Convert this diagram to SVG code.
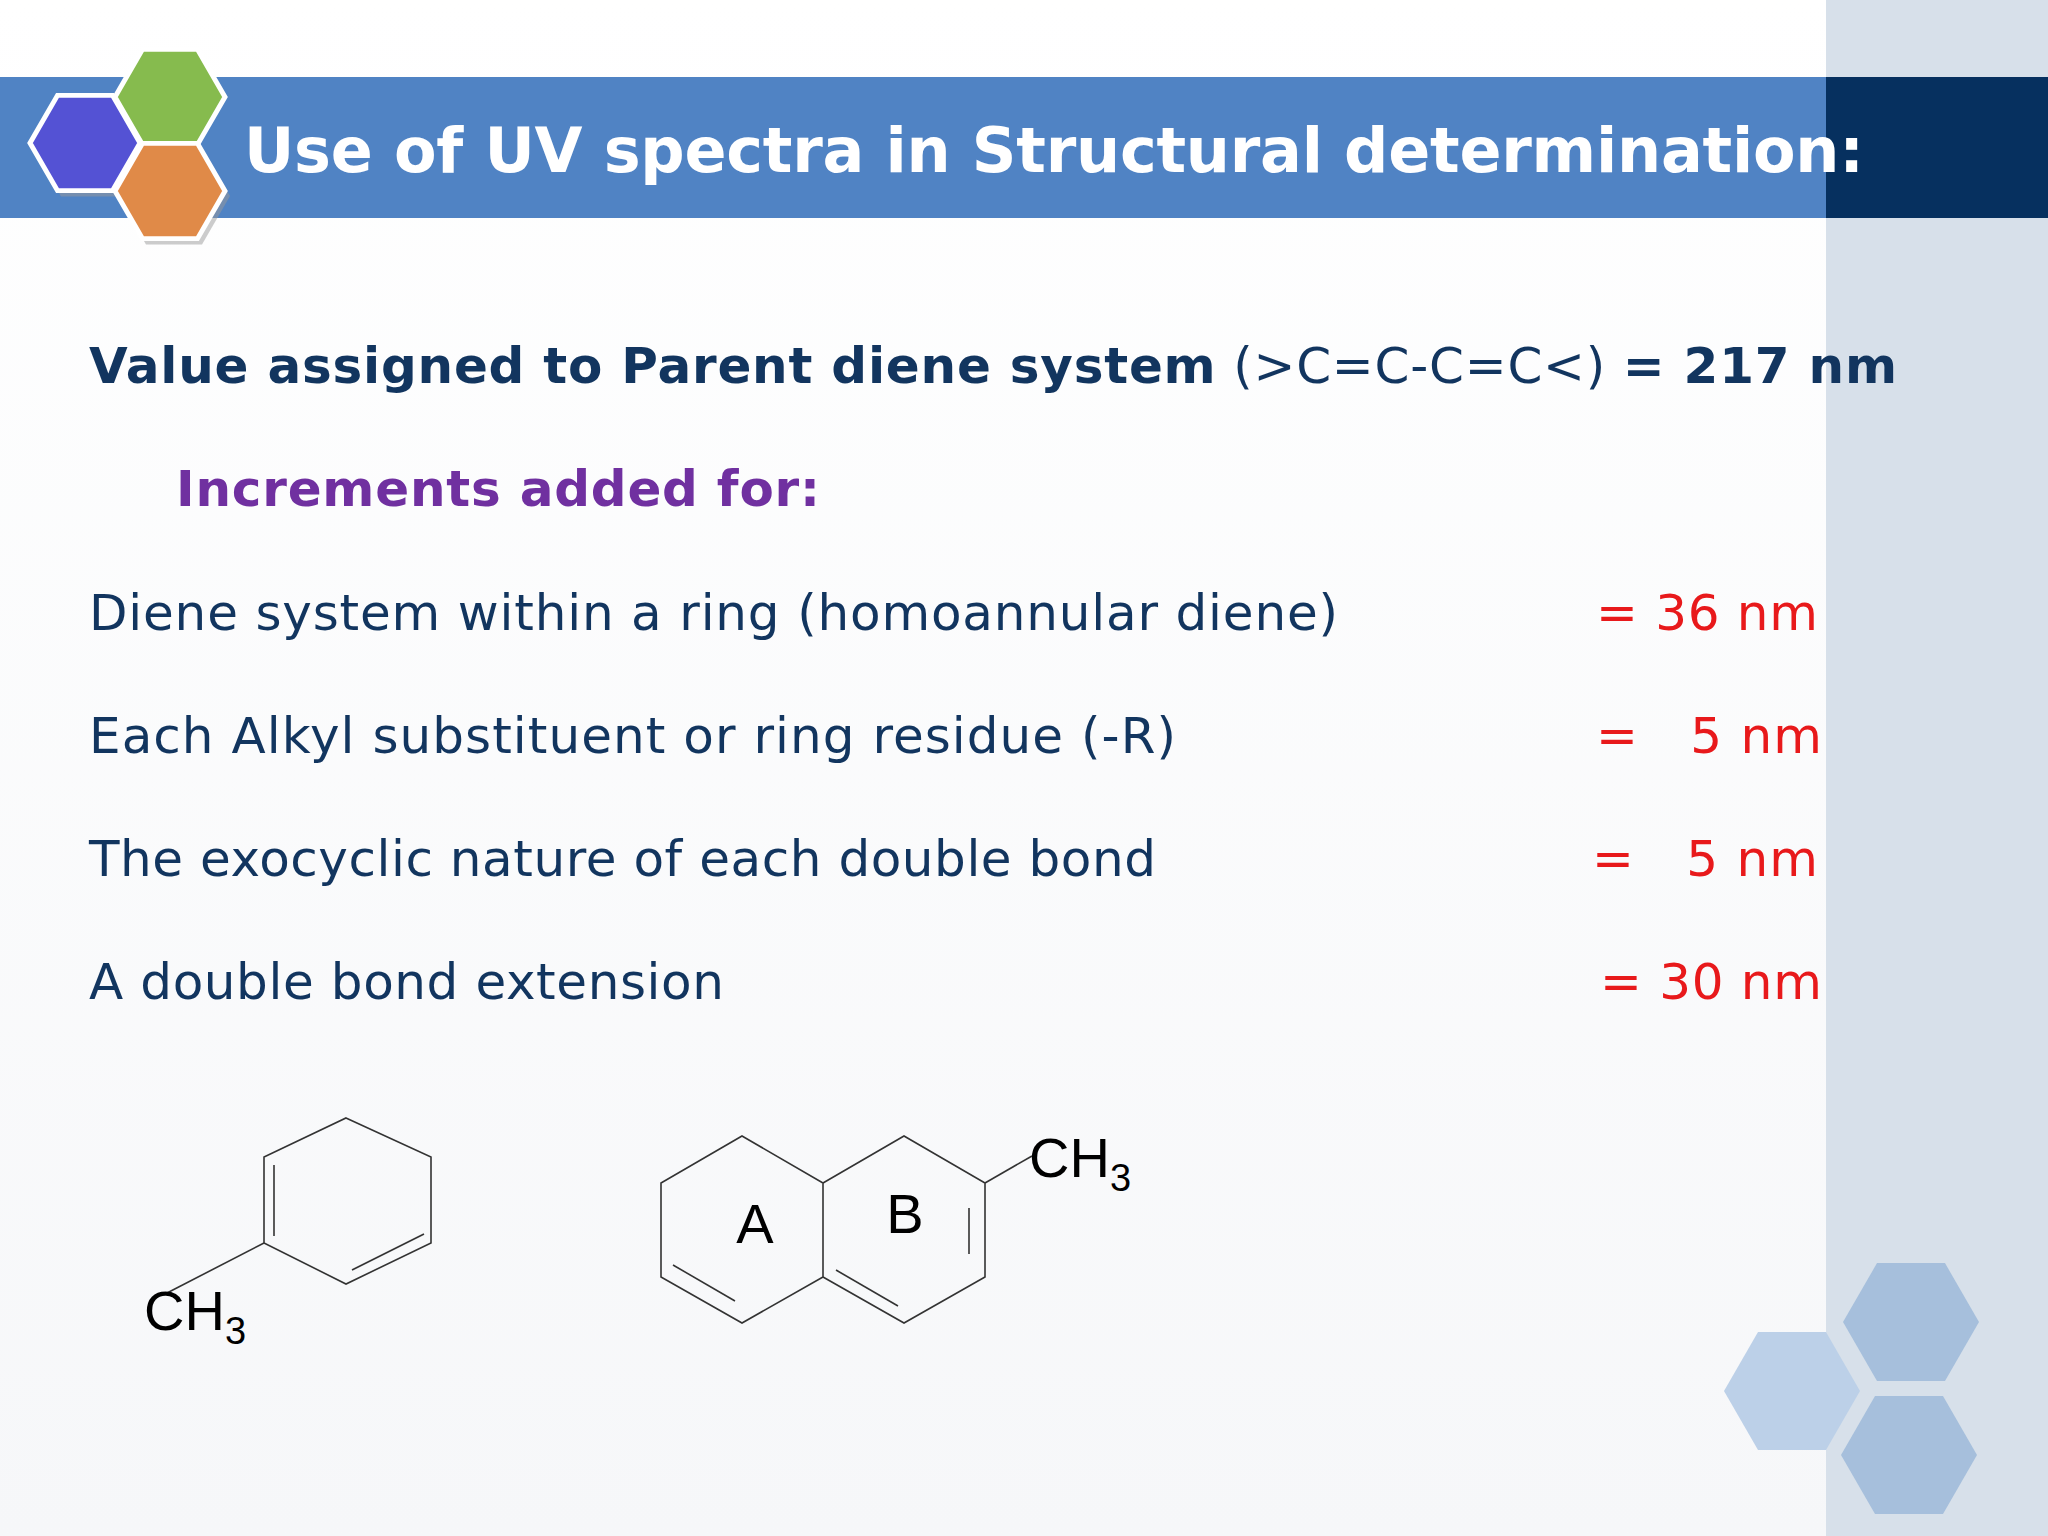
<svg xmlns="http://www.w3.org/2000/svg" width="2048" height="1536" viewBox="0 0 2048 1536">
<defs>
<linearGradient id="bg" x1="0" y1="0" x2="0" y2="1"><stop offset="0" stop-color="#ffffff"/><stop offset="1" stop-color="#f6f7f9"/></linearGradient>
<polygon id="hex" points="-1,0 -0.5,-0.866 0.5,-0.866 1,0 0.5,0.866 -0.5,0.866"/>
</defs>
<style>
.t{font-family:"DejaVu Sans",Verdana,sans-serif;fill:#12355f;font-size:50px}
.b{font-weight:bold}
.r{fill:#e8191b}
.bond{stroke:#333;stroke-width:1.6;fill:none}
.lab{font-family:"Liberation Sans",Arial,sans-serif;font-size:56px;fill:#000}
</style>
<rect width="2048" height="1536" fill="url(#bg)"/>
<rect x="1826" y="0" width="222" height="1536" fill="#d7e0ea"/>
<rect x="0" y="77" width="1826" height="141" fill="#5083c4"/>
<rect x="1826" y="77" width="222" height="141" fill="#06305f"/>
<g id="logo" stroke="#fff" stroke-width="0.09">
<use href="#hex" transform="translate(89,148) scale(56)" fill="#999" stroke="none" opacity="0.5"/>
<use href="#hex" transform="translate(174,196) scale(56)" fill="#999" stroke="none" opacity="0.5"/>
<use href="#hex" transform="translate(85,143) scale(55)" fill="#5452d4"/>
<use href="#hex" transform="translate(170,97) scale(55)" fill="#86bb4e"/>
<use href="#hex" transform="translate(170,191) scale(55)" fill="#e08a48"/>
</g>
<text x="244" y="172" class="t b" style="fill:#fff;font-size:62px" textLength="1620">Use of UV spectra in Structural determination:</text>
<g id="text">
<text x="89" y="383" class="t" textLength="1808"><tspan class="b">Value assigned to Parent diene system</tspan> (&gt;C=C-C=C&lt;) <tspan class="b">= 217 nm</tspan></text>
<text x="176" y="506" class="t b" style="fill:#7030a0" textLength="644">Increments added for:</text>
<text x="89" y="630" class="t" textLength="1249">Diene system within a ring (homoannular diene)</text>
<text x="89" y="753" class="t" textLength="1087">Each Alkyl substituent or ring residue (-R)</text>
<text x="89" y="876" class="t" textLength="1067">The exocyclic nature of each double bond</text>
<text x="89" y="999" class="t" textLength="635">A double bond extension</text>
<text x="1596" y="630" class="t r" xml:space="preserve" textLength="222">= 36 nm</text>
<text x="1596" y="753" class="t r" xml:space="preserve" textLength="226">=   5 nm</text>
<text x="1592" y="876" class="t r" xml:space="preserve" textLength="226">=   5 nm</text>
<text x="1600" y="999" class="t r" xml:space="preserve" textLength="222">= 30 nm</text>
</g>
<g id="mol1">
<polygon class="bond" points="346,1118 431,1157 431,1243 346,1284 264,1243 264,1157"/>
<line class="bond" x1="274" y1="1165" x2="274" y2="1236"/>
<line class="bond" x1="352" y1="1270" x2="424" y2="1234"/>
<line class="bond" x1="264" y1="1243" x2="167" y2="1293"/>
<text x="144" y="1330" class="lab">CH<tspan dy="14" font-size="38">3</tspan></text>
</g>
<g id="mol2">
<polygon class="bond" points="742,1136 823,1183 823,1277 742,1323 661,1277 661,1183"/>
<polyline class="bond" points="823,1183 904,1136 985,1183 985,1277 904,1323 823,1277"/>
<line class="bond" x1="673" y1="1265" x2="735" y2="1301"/>
<line class="bond" x1="836" y1="1270" x2="898" y2="1306"/>
<line class="bond" x1="969" y1="1208" x2="969" y2="1254"/>
<line class="bond" x1="985" y1="1183" x2="1032" y2="1156"/>
<text x="1029" y="1177" class="lab">CH<tspan dy="14" font-size="38">3</tspan></text>
<text x="755" y="1243" class="lab" text-anchor="middle">A</text>
<text x="905" y="1233" class="lab" text-anchor="middle">B</text>
</g>
<g id="deco">
<use href="#hex" transform="translate(1792,1391) scale(68)" fill="#bcd0e8"/>
<use href="#hex" transform="translate(1911,1322) scale(68)" fill="#a6bfdc"/>
<use href="#hex" transform="translate(1909,1455) scale(68)" fill="#a6bfdc"/>
</g>
</svg>
